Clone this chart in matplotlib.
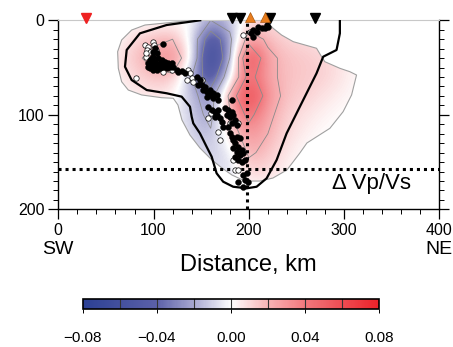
import numpy as np
import matplotlib
matplotlib.use('Agg')
import matplotlib.pyplot as plt
from matplotlib.colors import LinearSegmentedColormap
from matplotlib.patches import Polygon
from matplotlib.transforms import blended_transform_factory

plt.rcParams['font.family'] = ['Liberation Sans', 'DejaVu Sans']

# dVp/Vs model, sampled every 20 km (distance x depth)
grid_x = [40, 60, 80, 100, 120, 140, 160, 180, 200, 220, 240, 260, 280, 300, 320]
grid_z = [0, 20, 40, 60, 80, 100, 120, 140, 160, 180]
dvpvs = [
    [0, 0, 0, 0, 0, 0, -0.02, -0.012, 0.005, 0.01, 0.005, 0.003, 0, 0, 0],
    [0, 0, 0.01, 0.016, 0.02, -0.005, -0.055, -0.025, 0.03, 0.017, 0.011, 0.009, 0.006, 0.003, 0],
    [0, 0.005, 0.016, 0.026, 0.036, 0.002, -0.075, -0.02, 0.068, 0.024, 0.016, 0.014, 0.011, 0.006, 0],
    [0, 0.003, 0.01, 0.016, 0.016, -0.02, -0.055, -0.005, 0.048, 0.024, 0.016, 0.014, 0.012, 0.006, 0],
    [0, 0, 0.004, 0.006, 0.003, -0.015, -0.03, 0.025, 0.068, 0.03, 0.015, 0.012, 0.007, 0.003, 0],
    [0, 0, 0, 0, 0, -0.012, -0.025, 0.018, 0.046, 0.024, 0.012, 0.007, 0.003, 0, 0],
    [0, 0, 0, 0, 0, -0.01, -0.018, 0.008, 0.032, 0.02, 0.01, 0.004, 0, 0, 0],
    [0, 0, 0, 0, 0, -0.005, -0.012, -0.006, 0.023, 0.015, 0.006, 0, 0, 0, 0],
    [0, 0, 0, 0, 0, 0, -0.006, -0.01, 0.012, 0.009, 0.003, 0, 0, 0, 0],
    [0, 0, 0, 0, 0, 0, 0, 0, 0, 0, 0, 0, 0, 0, 0],
]

# resolved area (thin gray outline)
mask_x = [141.7, 91.0, 77.0, 66.5, 62.3, 63.0, 66.5, 73.5, 87.5, 108.5, 120.7, 125.6, 129.8,
          138.2, 148.7, 161.3, 171.8, 182.3, 196.0, 211.6, 225.3, 240.0, 253.6, 261.0, 285.1,
          299.0, 307.9, 313.1, 306.1, 295.6, 279.8, 276.4, 271.1, 246.6, 234.4, 225.6, 222.1, 220.0]
mask_z = [0.0, 5.0, 10.3, 20.8, 33.2, 50.8, 65.0, 73.8, 79.0, 81.9, 82.5, 89.6, 105.5,
          121.4, 135.1, 147.8, 156.3, 163.7, 170.1, 170.1, 166.9, 158.4, 140.4, 129.8, 114.3,
          96.7, 79.0, 57.9, 54.4, 50.8, 43.8, 38.5, 29.6, 22.6, 15.6, 8.5, 5.0, 0.0]

# thick black outline
outline_x = [149, 113.7, 85.7, 71.8, 70.0, 77.0, 92.8, 113.7, 129.5, 138.2, 140.0, 141.7, 148.7,
             155.7, 161.0, 166.2, 173.1, 183.6, 197.7, 208.2, 218.7, 229.2, 239.7, 253.6, 271.1,
             278.1, 292.1, 295.6, 295.6]
outline_z = [0, 5.0, 13.8, 31.4, 49.1, 63.2, 73.8, 77.2, 80.8, 91.4, 102.0, 109.0, 119.6,
             133.8, 144.3, 161.9, 170.8, 176.1, 177.8, 176.1, 167.2, 147.8, 119.6, 91.4, 56.1,
             38.5, 31.4, 13.8, 0]

# hypocentres
eq_black_x = [110.3, 101.5, 103.3, 99.8, 96.3, 94.5, 98.0, 101.5, 105.0, 108.5, 112.0, 115.5,
              119.0, 120.8, 117.3, 113.8, 110.3, 106.8, 103.3, 99.8, 96.3, 94.5, 103.3, 106.8,
              98.0, 101.5, 110.3, 113.8, 99.8, 98.0,
              124.3, 126.0, 129.5, 133.0, 145.3, 148.8, 150.5, 154.0, 147.0, 152.3, 155.8, 159.3,
              162.8, 166.3, 168.0, 162.8, 159.3, 155.8, 182.0, 157.5, 161.0, 164.5, 166.3, 169.8,
              171.5, 173.3, 164.5, 168.0, 175.0, 178.5, 182.0, 183.8, 180.3, 176.8, 185.5, 182.0,
              178.5, 187.3, 180.3, 182.0, 183.8, 187.3, 190.8, 185.5, 189.0, 183.8, 187.3, 192.5,
              190.8, 194.3, 185.5, 189.0, 192.5, 196.0, 197.8, 194.3, 196.0, 199.5, 189.0, 193.6,
              204.8, 208.3, 210.0, 213.5, 217.0, 218.8, 220.5, 204.8, 202.0]
eq_black_z = [25.1, 29.7, 34.9, 38.5, 42.0, 45.5, 47.3, 43.8, 40.2, 42.0, 43.8, 45.5,
              45.5, 49.1, 49.1, 47.3, 49.1, 50.8, 52.6, 52.6, 50.8, 49.1, 47.3, 45.5,
              40.2, 49.1, 45.5, 50.8, 33.2, 43.8,
              52.6, 54.4, 53.7, 56.1, 59.7, 63.2, 68.5, 70.2, 68.5, 73.8, 75.5, 73.8,
              77.3, 79.1, 84.4, 82.6, 79.1, 80.8, 84.4, 91.4, 95.0, 96.7, 100.3, 103.8,
              107.3, 112.6, 102.0, 95.0, 93.2, 95.0, 96.7, 100.3, 102.0, 100.3, 105.5, 109.1,
              112.6, 110.8, 119.7, 123.2, 126.7, 123.2, 125.0, 130.3, 133.8, 135.6, 139.1, 137.3,
              142.6, 140.8, 144.4, 147.9, 149.7, 147.9, 162.0, 163.8, 169.1, 170.9, 170.9, 176.9,
              10.2, 12.0, 6.7, 8.5, 8.5, 4.9, 6.7, 17.3, 13.8]
eq_white_x = [91.0, 94.5, 99.1, 100.5, 92.8, 96.3, 91.7, 92.0, 102.6, 81.6, 109.6, 119.0,
              135.8, 138.3, 140.0, 134.8, 141.8, 150.5, 157.5, 160.3, 168.0, 169.8, 180.3,
              189.0, 183.8, 185.5, 189.0, 194.3, 201.3]
eq_white_z = [26.1, 27.9, 22.6, 26.1, 31.4, 33.2, 38.5, 35.0, 31.4, 60.7, 54.4, 52.6,
              52.6, 56.1, 61.4, 63.2, 65.0, 63.2, 103.8, 98.5, 117.9, 126.7, 109.1,
              109.1, 147.9, 158.5, 158.5, 15.5, 12.0]

# stations / volcanoes on top
sta_black_x = [182, 191, 222, 270]
sta_orange_x = [201, 217]
sta_red_x = [29]

slab_x = 198      # vertical dotted line
depth_line = 157  # horizontal dotted line

cmap = LinearSegmentedColormap.from_list('dvpvs', [
    (0.0, (0.17, 0.25, 0.58)),
    (0.25, (0.36, 0.38, 0.66)),
    (0.375, (0.66, 0.66, 0.82)),
    (0.5, (1.0, 1.0, 1.0)),
    (0.625, (0.97, 0.70, 0.71)),
    (0.75, (0.95, 0.47, 0.49)),
    (1.0, (0.92, 0.13, 0.16)),
])

fig = plt.figure(figsize=(4.53, 3.47), dpi=100)
ax = fig.add_axes([0.1287, 0.3968, 0.8411, 0.5447])

Z = np.array(dvpvs)
im = ax.imshow(Z, cmap=cmap, vmin=-0.08, vmax=0.08, aspect='auto',
               extent=[grid_x[0] - 10, grid_x[-1] + 10, grid_z[-1] + 10, grid_z[0] - 10],
               interpolation='bicubic', interpolation_stage='data', origin='upper', zorder=1)
clip = Polygon(np.column_stack([mask_x, mask_z]), closed=True, transform=ax.transData,
               facecolor='none', edgecolor='none')
ax.add_patch(clip)
im.set_clip_path(clip)

cs = ax.contour(grid_x, grid_z, Z, levels=[-0.04, -0.02, 0.02, 0.04],
                colors='#8a8a8a', linewidths=0.6, linestyles='solid', zorder=2)
cs.set_clip_path(clip)

ax.plot(mask_x, mask_z, color='#a0a0a0', lw=0.8, zorder=3)
ax.plot(outline_x, outline_z, color='black', lw=1.6, zorder=3)

ax.axvline(slab_x, color='black', lw=2.2, ls=(0, (1, 1.3)), zorder=4)
ax.axhline(depth_line, color='black', lw=2.2, ls=(0, (1, 1.3)), zorder=4, clip_on=False)

ax.scatter(eq_white_x, eq_white_z, s=15, facecolor='white', edgecolor='black', linewidth=0.5, zorder=5)
ax.scatter(eq_black_x, eq_black_z, s=18, facecolor='black', edgecolor='black', linewidth=0.3, zorder=6)

ax.plot(sta_black_x, [-2.2] * len(sta_black_x), 'v', color='black', ms=6.5, clip_on=False, zorder=7)
ax.plot(sta_orange_x, [-3.5] * len(sta_orange_x), '^', color='#e87d1e', mec='#9a4a00', mew=0.4,
        ms=6.5, clip_on=False, zorder=8)
ax.plot(sta_red_x, [-2.5] * len(sta_red_x), 'v', color='#ee2222', ms=6.5, clip_on=False, zorder=7)

ax.text(287, 172.5, '\u0394 Vp/Vs', fontsize=16, va='center', ha='left', zorder=9)

ax.set_xlim(0, 400)
ax.set_ylim(200, 0)
ax.set_xticks([0, 100, 200, 300, 400])
ax.set_xticks(np.arange(0, 401, 20), minor=True)
ax.set_yticks([0, 100, 200])
ax.set_yticks(np.arange(0, 201, 10), minor=True)
ax.tick_params(axis='both', which='major', length=7, width=0.9, labelsize=11.5, pad=3)
ax.tick_params(axis='both', which='minor', length=3.5, width=0.7)
ax.tick_params(axis='y', which='both', left=True, right=True, labelright=False)
ax.tick_params(axis='x', which='both', top=False)
for side in ['left', 'right', 'bottom']:
    ax.spines[side].set_linewidth(1.0)
ax.spines['top'].set_color('#c8c8c8')
ax.spines['top'].set_linewidth(0.8)

trans = blended_transform_factory(ax.transData, ax.transAxes)
ax.text(0, -0.215, 'SW', transform=trans, ha='center', va='center', fontsize=14)
ax.text(400, -0.215, 'NE', transform=trans, ha='center', va='center', fontsize=14)
ax.text(0.5, -0.295, 'Distance, km', transform=ax.transAxes, ha='center', va='center', fontsize=17)

# colour bar
cax = fig.add_axes([0.1826, 0.1104, 0.6547, 0.0271])
cb = fig.colorbar(im, cax=cax, orientation='horizontal', ticks=[-0.08, -0.04, 0, 0.04, 0.08])
cb.ax.set_xticklabels(['\u22120.08', '\u22120.04', '0.00', '0.04', '0.08'])
cb.ax.tick_params(length=3, width=0.7, labelsize=11, pad=13)
cb.outline.set_linewidth(1.2)
for v in [-0.06, -0.04, -0.02, 0, 0.02, 0.04, 0.06]:
    cax.axvline(v, color='#333333', lw=0.8)

fig.savefig('out.png', dpi=100)
